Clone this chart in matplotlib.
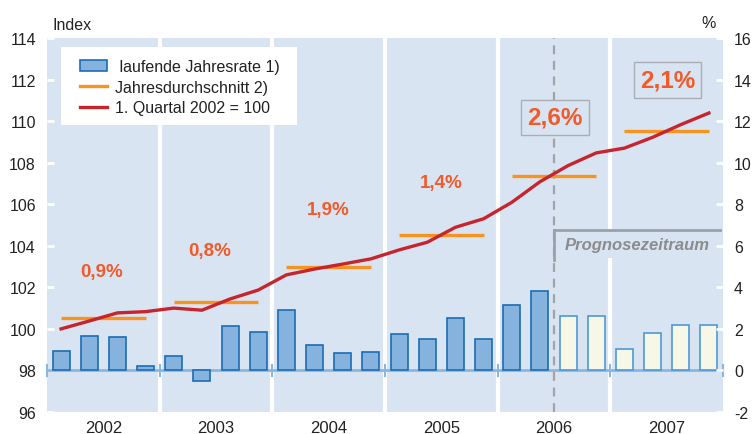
import matplotlib.pyplot as plt
from matplotlib.patches import Rectangle, Patch
from matplotlib.lines import Line2D
import numpy as np

plt.rcParams['font.family'] = ['Liberation Sans', 'DejaVu Sans']
plt.rcParams['axes.unicode_minus'] = False

years = ['2002', '2003', '2004', '2005', '2006', '2007']

# laufende Jahresrate (%), quarterly, right axis
rate = [0.93, 1.65, 1.59, 0.19,
        0.69, -0.51, 2.15, 1.86,
        2.90, 1.22, 0.85, 0.88,
        1.75, 1.52, 2.53, 1.52,
        3.14, 3.80, 2.61, 2.63,
        1.01, 1.81, 2.21, 2.21]
n_actual = 18  # last 6 quarters are forecast

# index, 1. Quartal 2002 = 100
index = [100.0, 100.38, 100.77, 100.83,
         101.0, 100.9, 101.44, 101.87,
         102.6, 102.88, 103.12, 103.37,
         103.8, 104.17, 104.89, 105.3,
         106.09, 107.08, 107.86, 108.47,
         108.7, 109.22, 109.83, 110.39]

# Jahresdurchschnitt (index level)
year_avg = [100.51, 101.3, 102.99, 104.53, 107.34, 109.54]
year_pct = ['0,9%', '0,8%', '1,9%', '1,4%', '2,6%', '2,1%']
pct_pos = [(1.44, 102.77), (5.29, 103.76), (9.47, 105.74),
           (13.49, 107.06), (17.53, 110.18), (21.54, 111.98)]

bg = '#d9e4f3'
bar_face = '#86b3de'
bar_edge = '#1c6db4'
fc_face = '#f7f7e7'
fc_edge = '#4c9ad8'
red = '#c7252d'
orange = '#f7931e'
label_col = '#f15a29'

fig = plt.figure(figsize=(7.54, 4.35), dpi=100)
ax = fig.add_axes([47/754, 1-413/435, 676/754, 374/435])
ax.set_facecolor(bg)
ax.set_xlim(-0.5, 23.5)
ax.set_ylim(96, 114)
for s in ax.spines.values():
    s.set_visible(False)

# year separators
for b in range(1, 6):
    ax.axvline(b*4 - 0.5, color='white', lw=3, zorder=1)

x = np.arange(24)
rate = np.array(rate)
ax.bar(x[:n_actual], rate[:n_actual], bottom=98, width=0.6,
       color=bar_face, edgecolor=bar_edge, lw=1.2, zorder=3)
ax.bar(x[n_actual:], rate[n_actual:], bottom=98, width=0.6,
       color=fc_face, edgecolor=fc_edge, lw=1.2, zorder=3)

# zero baseline with small ticks
ax.axhline(98, color='#8ab6e0', lw=2, zorder=2)
for b in range(0, 7):
    ax.plot([b*4 - 0.5]*2, [97.72, 98.28], color='#8ab6e0', lw=1.5,
            zorder=2, clip_on=False)

# yearly averages
for i, v in enumerate(year_avg):
    ax.plot([i*4, i*4 + 3], [v, v], color=orange, lw=2.4, zorder=4,
            solid_capstyle='butt')

ax.plot(x, index, color=red, lw=2.4, zorder=5)

# forecast marker
ax.axvline(17.5, color='#a3a3a3', lw=1.6, ls=(0, (4, 3)), zorder=2)
ax.add_patch(Rectangle((17.5, 103.4), 5.9, 1.35, facecolor=bg,
                       edgecolor='none', zorder=2.5))
ax.plot([17.5, 23.4], [104.75, 104.75], color='#9ba1a8', lw=2, zorder=2.6)
ax.plot([17.5, 17.5], [103.3, 104.75], color='#9ba1a8', lw=2, zorder=2.6)
ax.text(20.45, 104.08, 'Prognosezeitraum', color='#8c8c8c', fontsize=12,
        fontweight='bold', fontstyle='italic', ha='center', va='center',
        zorder=6)

for i, (t, (px, py)) in enumerate(zip(year_pct, pct_pos)):
    if i < 4:
        ax.text(px, py, t, color=label_col, fontsize=13.5, fontweight='bold',
                ha='center', va='center', zorder=6)
    else:
        ax.text(px, py, t, color=label_col, fontsize=17.5, fontweight='bold',
                ha='center', va='center', zorder=6,
                bbox=dict(boxstyle='square,pad=0.25', facecolor=bg,
                          edgecolor='#a9afb5', lw=1))

ax.set_yticks(np.arange(96, 115, 2))
ax.tick_params(axis='y', direction='in', length=5, width=2, color='white',
               labelsize=11.5, labelcolor='#222222', pad=8)
ax.set_xticks([1.5, 5.5, 9.5, 13.5, 17.5, 21.5])
ax.set_xticklabels(years)
ax.tick_params(axis='x', length=0, labelsize=12, labelcolor='#222222', pad=6)

ax2 = ax.twinx()
ax2.set_ylim(-2, 16)
ax2.set_yticks(np.arange(-2, 17, 2))
for s in ax2.spines.values():
    s.set_visible(False)
ax2.tick_params(axis='y', direction='in', length=5, width=2, color='white',
                labelsize=11.5, labelcolor='#222222', pad=8)

fig.text(52/754, 1-25/435, 'Index', fontsize=11.5, color='#222222',
         va='center', ha='left')
fig.text(709/754, 1-23/435, '%', fontsize=11.5, color='#222222',
         va='center', ha='center')

# legend
fig.patches.append(Rectangle((61/754, 1-126/435), 236/754, 78/435,
                             transform=fig.transFigure, facecolor='white',
                             edgecolor='none', zorder=10))
handles = [Patch(facecolor=bar_face, edgecolor=bar_edge, lw=1.2),
           Line2D([], [], color=orange, lw=2.4),
           Line2D([], [], color=red, lw=2.4)]
labels = [' laufende Jahresrate 1)', 'Jahresdurchschnitt 2)',
          '1. Quartal 2002 = 100']
leg = fig.legend(handles, labels, loc='upper left',
                 bbox_to_anchor=(72/754, 1-52/435), frameon=False,
                 fontsize=11.5, handlelength=1.7, handleheight=0.7,
                 handletextpad=0.5, labelspacing=0.35, borderpad=0)
leg.set_zorder(11)
for t in leg.get_texts():
    t.set_color('#222222')

fig.savefig('out.png', dpi=100)
